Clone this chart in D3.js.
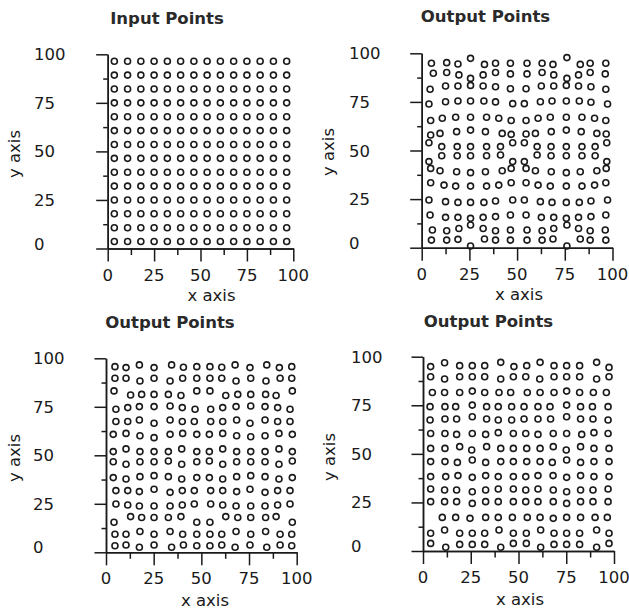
<!DOCTYPE html>
<html>
<head>
<meta charset="utf-8">
<script src="https://cdn.jsdelivr.net/npm/d3@7"></script>
<style>
  html, body { margin: 0; padding: 0; background: #fff; }
  svg { display: block; }
</style>
</head>
<body>
<svg id="chart" width="629" height="611"></svg>
<script>
// Axis ticks (labelled majors and unlabelled minors)
const tickValues = [0, 25, 50, 75, 100];
const minorTickValues = [12.5, 37.5, 62.5, 87.5];

// Regular input grid: 14 positions per axis
const gridValues = [3.57, 10.71, 17.86, 25.0, 32.14, 39.29, 46.43, 53.57, 60.71, 67.86, 75.0, 82.14, 89.29, 96.43];
const inputPoints = d3.cross(gridValues, gridValues);

// First relaxed output
const outputPointsA = [
  [5.1,94.9],[13.1,95.2],[19.0,94.5],[25.6,97.4],[32.9,94.3],[38.7,94.9],[46.5,94.9],[55.2,94.9],[63.1,94.9],[68.8,94.3],[76.1,97.8],[83.1,94.3],[88.3,94.9],[96.5,94.9],
  [6.1,89.7],[13.1,90.1],[19.5,88.9],[25.6,87.1],[32.2,88.9],[38.7,90.1],[46.5,89.4],[55.2,89.4],[63.1,90.1],[69.2,88.9],[76.1,87.1],[82.2,88.9],[88.3,90.1],[96.2,89.4],
  [4.4,81.5],[12.5,83.2],[19.0,83.2],[25.6,83.5],[32.2,83.2],[38.7,82.8],[46.5,81.8],[54.7,81.8],[62.7,83.2],[69.2,83.2],[75.8,83.5],[82.2,83.2],[88.7,82.8],[96.5,81.5],
  [3.8,73.9],[12.5,75.1],[19.0,75.5],[25.6,75.5],[32.6,75.5],[38.7,75.0],[47.7,74.1],[53.8,74.1],[62.2,75.1],[68.3,75.5],[75.8,75.5],[82.6,75.5],[88.7,74.8],[97.4,73.9],
  [4.7,65.4],[10.8,66.6],[17.8,67.1],[25.6,67.1],[34.0,67.1],[40.4,66.6],[46.9,65.4],[54.7,65.4],[61.0,66.6],[67.4,67.1],[75.8,67.1],[84.0,67.1],[90.6,66.6],[96.5,65.4],
  [4.7,58.0],[9.6,58.8],[18.3,59.7],[25.6,60.5],[33.4,59.7],[42.2,58.8],[46.9,58.3],[54.7,58.5],[59.6,58.8],[67.9,59.7],[75.8,60.5],[83.6,59.7],[91.8,58.8],[96.7,58.5],
  [3.8,54.0],[47.7,54.0],[53.8,54.0],[97.0,54.0],
  [10.5,52.0],[18.6,52.0],[25.6,52.0],[34.0,52.0],[41.3,52.0],[60.5,52.0],[67.8,52.0],[75.8,52.0],[84.0,52.0],[90.9,52.0],
  [10.5,47.3],[18.6,47.3],[25.6,47.3],[34.0,47.3],[41.3,47.7],[60.5,47.7],[67.8,47.3],[75.8,47.3],[84.0,47.3],[90.9,47.3],
  [3.8,44.3],[47.7,44.3],[53.8,44.3],[97.0,44.3],
  [4.7,40.8],[9.6,39.6],[18.3,39.1],[25.6,38.6],[33.4,39.1],[42.2,39.6],[46.9,40.8],[54.7,40.8],[59.6,39.6],[67.9,39.1],[75.8,38.6],[83.1,39.1],[91.8,39.6],[96.7,40.8],
  [4.7,33.4],[11.7,32.2],[17.8,31.7],[25.6,31.7],[34.0,31.7],[40.4,32.2],[46.9,33.4],[54.7,33.4],[61.0,32.2],[67.4,31.7],[75.8,31.7],[84.0,31.7],[90.6,32.2],[96.5,33.4],
  [3.8,24.5],[12.5,23.7],[19.0,23.3],[25.6,23.3],[32.6,23.3],[38.7,24.0],[47.7,24.5],[53.8,24.5],[62.2,23.7],[68.3,23.3],[75.8,23.3],[82.6,23.3],[88.7,24.0],[97.4,24.5],
  [4.4,16.8],[12.5,15.6],[19.0,15.6],[25.6,15.1],[32.2,15.6],[38.7,16.0],[46.5,16.8],[54.7,16.8],[62.7,15.6],[69.2,15.6],[75.8,15.1],[82.2,15.6],[88.7,16.0],[96.5,16.8],
  [5.6,9.1],[13.1,8.7],[19.5,9.9],[25.6,11.7],[32.2,9.9],[38.7,8.7],[46.5,9.1],[55.2,9.1],[63.1,8.7],[69.2,9.9],[76.1,11.7],[82.2,9.9],[88.3,8.7],[96.2,9.1],
  [5.1,3.9],[13.1,3.9],[19.0,4.3],[25.6,0.9],[32.9,4.5],[38.7,3.9],[46.5,3.9],[55.2,3.9],[63.1,3.9],[68.8,4.5],[76.1,0.9],[83.1,4.5],[88.3,3.9],[96.5,3.9]
];

// Second relaxed output
const outputPointsB = [
  [4.7,95.7],[10.5,95.2],[17.5,96.6],[25.2,95.2],[34.4,96.6],[40.6,95.4],[47.6,95.7],[54.5,95.7],[60.7,95.4],[67.7,96.6],[75.5,95.2],[84.3,96.6],[90.9,95.2],[97.4,95.7],
  [4.7,89.7],[10.5,89.7],[17.8,88.3],[25.2,89.7],[33.6,88.3],[40.2,89.7],[47.6,89.7],[54.5,89.7],[60.7,89.7],[68.2,88.3],[75.9,89.7],[83.9,88.3],[91.3,89.7],[97.4,89.7],
  [4.2,83.2],[12.9,81.1],[18.7,81.4],[25.2,81.4],[32.7,81.4],[39.3,80.8],[47.6,83.2],[54.5,83.2],[62.8,80.8],[69.1,81.4],[75.9,81.4],[83.7,81.4],[89.2,80.8],[97.7,83.2],
  [5.2,73.7],[11.4,74.6],[17.5,75.1],[25.2,75.1],[33.6,75.4],[40.0,74.6],[46.7,73.7],[54.9,73.7],[61.2,74.6],[68.2,75.1],[75.9,75.4],[83.4,75.1],[90.0,74.6],[96.5,73.7],
  [5.2,67.4],[11.4,67.4],[17.5,68.2],[25.2,66.5],[33.6,68.2],[40.0,67.4],[46.3,67.4],[54.9,67.4],[61.2,67.4],[68.5,68.2],[75.5,66.5],[83.4,68.2],[90.0,67.4],[96.5,67.4],
  [3.8,60.8],[10.5,61.3],[17.8,60.1],[25.2,59.1],[33.6,60.8],[40.2,61.3],[47.6,60.8],[54.2,60.8],[61.2,61.3],[68.5,60.1],[75.9,59.6],[83.4,60.1],[90.7,61.3],[97.7,60.8],
  [3.8,51.9],[10.5,53.3],[17.8,51.9],[25.2,51.9],[32.7,51.9],[39.7,53.3],[47.6,51.9],[54.2,51.9],[61.2,53.3],[68.5,51.9],[75.9,51.9],[83.4,51.9],[90.7,53.3],[97.7,51.9],
  [3.8,46.7],[10.5,45.4],[17.8,46.7],[25.2,46.7],[32.7,47.1],[39.7,45.4],[47.6,46.7],[54.2,47.1],[61.2,45.4],[68.5,46.7],[75.9,46.7],[83.4,46.7],[90.7,45.4],[97.7,47.1],
  [3.8,38.5],[10.5,37.8],[17.8,39.0],[25.2,39.5],[32.7,39.0],[39.7,37.8],[47.6,38.5],[54.2,38.5],[61.2,37.8],[68.5,39.0],[75.9,39.5],[83.4,39.0],[90.7,37.8],[97.7,38.5],
  [5.2,31.8],[11.4,31.8],[17.5,31.3],[25.2,32.5],[33.6,30.9],[40.0,31.8],[46.3,31.8],[54.9,31.8],[61.2,31.8],[68.5,31.3],[75.5,32.5],[83.4,30.9],[90.0,31.8],[96.5,31.8],
  [5.2,24.9],[11.4,24.4],[17.5,23.9],[25.2,23.9],[33.6,23.9],[40.0,24.4],[46.3,24.9],[54.9,24.9],[61.2,24.4],[68.2,23.9],[75.9,23.9],[83.4,23.9],[90.0,24.4],[96.5,24.9],
  [4.2,15.5],[12.9,18.4],[18.7,17.9],[25.2,17.9],[32.7,17.9],[39.3,18.4],[47.6,15.5],[54.5,15.5],[62.8,18.4],[69.1,17.9],[75.9,17.9],[83.7,17.9],[89.2,18.4],[97.7,15.5],
  [4.7,9.3],[10.5,9.3],[17.8,10.7],[25.2,9.3],[33.6,10.7],[40.2,9.3],[47.6,9.3],[54.5,9.3],[60.7,9.3],[68.2,10.7],[75.9,9.3],[83.7,10.7],[91.3,9.3],[97.4,9.3],
  [4.7,3.4],[10.5,3.8],[17.5,2.6],[25.2,3.8],[34.4,2.6],[40.6,3.8],[47.6,3.4],[54.5,3.4],[60.7,3.8],[67.7,2.6],[75.5,3.8],[84.3,2.6],[91.3,3.8],[97.4,3.4]
];

// Third relaxed output
const outputPointsC = [
  [4.0,94.9],[11.3,96.9],[19.2,95.4],[25.8,95.4],[32.3,95.4],[40.7,97.1],[47.6,94.9],[54.3,95.4],[61.3,97.1],[68.6,95.4],[75.2,95.4],[82.0,95.4],[90.9,97.1],[97.4,94.5],
  [4.0,89.7],[11.3,88.5],[19.2,89.7],[25.8,89.7],[32.3,89.7],[40.7,88.5],[47.3,89.7],[53.8,89.7],[61.1,88.5],[68.6,89.7],[75.2,89.7],[82.0,89.7],[90.9,88.5],[97.4,89.7],
  [4.9,81.6],[11.3,81.6],[19.2,81.6],[25.8,82.3],[32.3,81.6],[39.8,81.6],[45.9,81.6],[54.6,81.6],[61.3,81.6],[68.6,81.6],[75.2,82.3],[82.0,81.6],[89.2,81.6],[96.0,81.6],
  [3.7,74.3],[11.5,74.3],[17.1,74.3],[25.8,75.1],[33.3,74.3],[39.4,74.3],[46.4,74.3],[52.9,74.3],[60.2,74.3],[66.5,74.3],[75.2,75.1],[82.5,74.3],[88.7,74.3],[96.9,74.3],
  [3.7,67.4],[11.5,67.9],[17.6,67.9],[25.8,69.1],[33.3,67.9],[39.4,67.4],[46.4,67.4],[52.9,67.9],[60.2,67.9],[66.8,67.9],[75.2,69.1],[82.5,67.9],[89.0,67.9],[96.9,67.4],
  [4.0,60.5],[11.5,60.5],[17.6,60.0],[25.8,60.5],[32.8,60.0],[39.4,60.9],[47.3,60.5],[53.8,60.5],[60.2,60.0],[68.2,60.5],[75.2,60.5],[83.1,60.0],[89.5,60.9],[96.9,60.5],
  [4.0,52.8],[11.5,52.8],[19.2,53.7],[25.5,52.0],[33.3,53.7],[40.7,52.8],[47.3,52.8],[54.3,52.8],[61.3,52.8],[68.2,53.7],[75.0,52.0],[82.5,53.7],[89.5,52.8],[97.4,52.8],
  [4.0,46.0],[11.5,46.0],[18.0,45.6],[25.8,46.8],[32.8,45.6],[40.7,46.0],[47.3,46.0],[54.3,46.0],[61.3,46.0],[67.7,45.6],[75.2,46.8],[82.5,45.6],[89.5,46.0],[97.4,46.0],
  [4.0,38.3],[11.9,38.3],[18.3,38.8],[25.8,37.9],[32.8,38.8],[39.4,38.3],[47.3,38.3],[53.8,38.3],[60.2,38.8],[68.1,38.8],[75.2,37.9],[82.5,38.8],[89.5,38.3],[97.4,38.3],
  [4.0,31.9],[11.3,31.4],[17.6,31.4],[25.8,30.5],[32.8,31.4],[39.4,31.9],[47.3,31.9],[53.8,31.4],[60.2,31.9],[68.2,31.4],[75.2,30.5],[82.5,31.4],[89.0,31.4],[96.9,31.9],
  [4.0,25.4],[11.3,25.4],[17.6,25.4],[25.8,24.5],[32.8,25.4],[39.4,25.4],[47.3,25.4],[53.8,25.4],[60.2,25.4],[68.2,25.4],[75.2,24.5],[82.5,25.4],[89.0,25.4],[96.9,25.4],
  [10.1,17.3],[17.1,17.3],[24.6,16.8],[32.8,17.3],[39.4,17.3],[46.8,17.3],[54.6,17.3],[61.3,17.3],[68.2,16.8],[75.2,17.3],[82.5,17.3],[90.1,17.3],[96.5,17.3],
  [4.0,9.1],[11.3,10.8],[19.2,9.1],[25.8,9.1],[32.3,9.1],[39.8,10.8],[47.3,9.1],[54.1,9.1],[61.6,10.8],[68.6,9.1],[75.2,9.1],[82.0,9.1],[90.9,10.8],[97.4,9.1],
  [4.0,3.9],[11.9,1.9],[19.2,3.4],[25.8,3.4],[32.3,3.4],[40.7,1.9],[47.3,3.9],[54.1,3.9],[61.6,1.9],[68.6,3.4],[75.2,3.4],[82.0,3.4],[90.9,1.9],[97.4,3.9]
];

const panelTitles = ["Input Points", "Output Points", "Output Points", "Output Points"];
const panelPoints = [inputPoints, outputPointsA, outputPointsB, outputPointsC];
const xAxisTitle = "x axis";
const yAxisTitle = "y axis";

// Placement of each small plot on the page
const frames = [
  { x0: 107.7, x1: 293.3, y0: 248.5, y1: 54.3, titleX: 167,   titleY: 23.5, yLabX: 34,  yTitleX: 20,    yTitleY: 154, xTitleX: 211.5, xTitleY: 301 },
  { x0: 421.7, x1: 612.5, y0: 247.7, y1: 53.3, titleX: 485.5, titleY: 21.5, yLabX: 349, yTitleX: 333.5, yTitleY: 152, xTitleX: 519,   xTitleY: 300 },
  { x0: 106,   x1: 296.7, y0: 552.3, y1: 358.3, titleX: 170,  titleY: 327.5, yLabX: 33, yTitleX: 20,    yTitleY: 458, xTitleX: 205,   xTitleY: 606 },
  { x0: 423,   x1: 614,   y0: 551,   y1: 356.7, titleX: 488.5, titleY: 326.5, yLabX: 351, yTitleX: 335, yTitleY: 457, xTitleX: 520,   xTitleY: 605 }
];

const FONT = "'DejaVu Sans', Verdana, sans-serif";
const INK = "#1a1a1a";
const svg = d3.select("#chart");

frames.forEach((f, i) => {
  const x = d3.scaleLinear().domain([0, 100]).range([f.x0, f.x1]);
  const y = d3.scaleLinear().domain([0, 100]).range([f.y0, f.y1]);
  const g = svg.append("g");

  // Axes: long labelled ticks plus short minor ticks
  const styleAxis = sel => {
    sel.selectAll("path.domain").attr("stroke", INK).attr("stroke-width", 1.5);
    sel.selectAll(".tick line").attr("stroke", INK).attr("stroke-width", 1.5);
    sel.selectAll(".tick text").remove();
  };
  g.append("g").attr("transform", `translate(0,${f.y0})`)
    .call(d3.axisBottom(x).tickValues(tickValues).tickSize(13).tickSizeOuter(0)).call(styleAxis);
  g.append("g").attr("transform", `translate(0,${f.y0})`)
    .call(d3.axisBottom(x).tickValues(minorTickValues).tickSize(6.5).tickSizeOuter(0)).call(styleAxis);
  g.append("g").attr("transform", `translate(${f.x0},0)`)
    .call(d3.axisLeft(y).tickValues(tickValues).tickSize(11.5).tickSizeOuter(0)).call(styleAxis);
  g.append("g").attr("transform", `translate(${f.x0},0)`)
    .call(d3.axisLeft(y).tickValues(minorTickValues).tickSize(4.5).tickSizeOuter(0)).call(styleAxis);

  // Tick labels
  g.selectAll("text.xtick").data(tickValues).join("text")
    .attr("class", "xtick")
    .attr("x", d => x(d)).attr("y", f.y0 + 32)
    .attr("text-anchor", "middle")
    .attr("font-family", FONT).attr("font-size", 16.5).attr("fill", INK)
    .text(d => d);
  g.selectAll("text.ytick").data(tickValues).join("text")
    .attr("class", "ytick")
    .attr("x", f.yLabX).attr("y", d => y(d) + 6 - (d === 0 ? 5 : 0))
    .attr("text-anchor", "start")
    .attr("font-family", FONT).attr("font-size", 16.5).attr("fill", INK)
    .text(d => d);

  // Titles
  g.append("text").attr("x", f.titleX).attr("y", f.titleY)
    .attr("text-anchor", "middle").attr("font-family", FONT)
    .attr("font-size", 16.5).attr("font-weight", "bold").attr("fill", "#2a2a2a")
    .text(panelTitles[i]);
  g.append("text").attr("x", f.xTitleX).attr("y", f.xTitleY)
    .attr("text-anchor", "middle").attr("font-family", FONT)
    .attr("font-size", 16.5).attr("fill", INK)
    .text(xAxisTitle);
  g.append("text")
    .attr("transform", `translate(${f.yTitleX},${f.yTitleY}) rotate(-90)`)
    .attr("text-anchor", "middle").attr("font-family", FONT)
    .attr("font-size", 16.5).attr("fill", INK)
    .text(yAxisTitle);

  // Points as open circles
  g.selectAll("circle").data(panelPoints[i]).join("circle")
    .attr("cx", d => x(d[0])).attr("cy", d => y(d[1]))
    .attr("r", 3.0)
    .attr("fill", "none").attr("stroke", INK).attr("stroke-width", 1.6);
});
</script>
</body>
</html>
